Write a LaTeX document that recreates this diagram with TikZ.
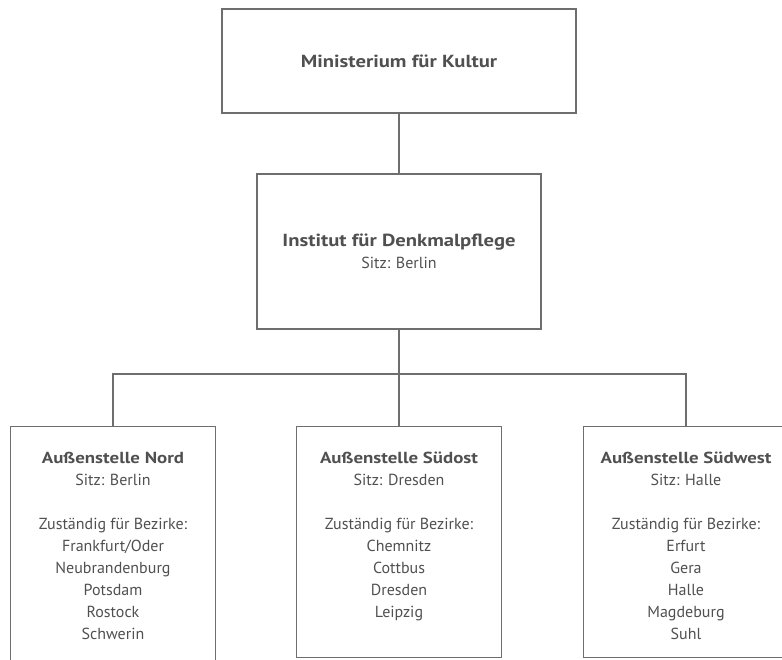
\documentclass[tikz,border=0pt]{standalone}
\usepackage{fontspec}
\setmainfont{PT Sans}[BoldFeatures={FakeStretch=1.18}]
\usetikzlibrary{positioning}
\definecolor{inkgray}{HTML}{505050}
\definecolor{linegray}{HTML}{6E6E6E}

\begin{document}
\begin{tikzpicture}[
    x = 1pt, y = -1pt,
    every node/.style = {text=inkgray, font=\fontsize{16}{22}\selectfont},
    box/.style = {draw=linegray, line width=1.3pt, rectangle, inner sep=0pt},
    office/.style = {box, anchor=north, minimum width=205pt, minimum height=231pt},
    txt/.style = {anchor=north, align=center, inner sep=0pt},
    big/.style = {font=\fontsize{17.5}{23}\selectfont},
    link/.style = {draw=linegray, line width=1.3pt}
  ]
    \clip (0,0) rectangle (782,659);
    \node[box, big, minimum width=354pt, minimum height=104pt] (min) at (399,61) {\textbf{Ministerium für Kultur}};  % Ministerium
    \node[box, align=center, minimum width=284pt, minimum height=155pt] (inst) at (399,251.5)
        {{\fontsize{17.5}{23}\selectfont\textbf{Institut für Denkmalpflege}}\\ Sitz: Berlin};  % Institut
    \coordinate (split) at (399,374);

    \node[office, minimum height=250pt] (nord) at (113,426) {};  % unten abgeschnitten
    \node[office] (suedost) at (399,426) {};
    \node[office] (suedwest) at (686,426) {};  % rechts abgeschnitten

    \node[txt] (nordtxt) at ([yshift=-26pt]nord.north)
        {\textbf{Außenstelle Nord}\\ Sitz: Berlin\\[22pt] Zuständig für Bezirke:\\
         Frankfurt/Oder\\ Neubrandenburg\\ Potsdam\\ Rostock\\ Schwerin};
    \node[txt] (suedosttxt) at ([yshift=-26pt]suedost.north)
        {\textbf{Außenstelle Südost}\\ Sitz: Dresden\\[22pt] Zuständig für Bezirke:\\
         Chemnitz\\ Cottbus\\ Dresden\\ Leipzig};
    \node[txt] (suedwesttxt) at ([yshift=-26pt]suedwest.north)
        {\textbf{Außenstelle Südwest}\\ Sitz: Halle\\[22pt] Zuständig für Bezirke:\\
         Erfurt\\ Gera\\ Halle\\ Magdeburg\\ Suhl};

    \draw[link] (min) -- (inst);
    \draw[link] (inst.south) -- (split);
    \foreach \b in {nord, suedost, suedwest}
        \draw[link] (split) -| (\b.north);
\end{tikzpicture}
\end{document}
